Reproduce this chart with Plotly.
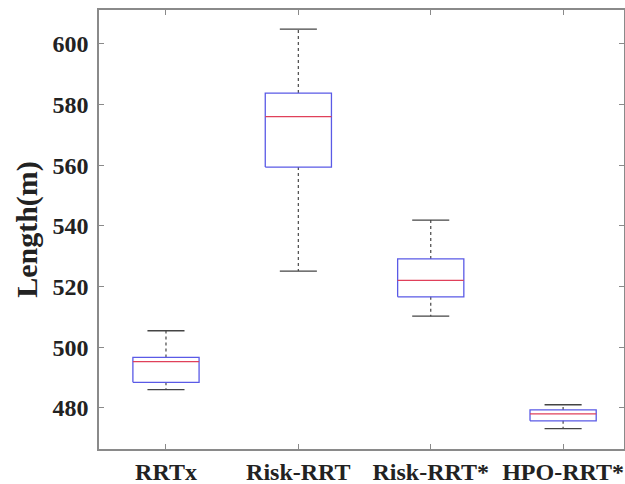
import plotly.graph_objects as go

categories = ["RRTx", "Risk-RRT", "Risk-RRT*", "HPO-RRT*"]
lower_whisker = [486.0, 525.1, 510.2, 473.1]
q1_values = [488.4, 559.4, 516.6, 475.7]
median_values = [495.2, 576.0, 522.0, 478.0]
q3_values = [496.6, 583.8, 529.1, 479.3]
upper_whisker = [505.4, 604.9, 541.9, 481.0]
y_ticks = [480, 500, 520, 540, 560, 580, 600]

BOX_HALF = 0.25
CAP_HALF = 0.14
FONT = "Times New Roman"

fig = go.Figure()
for i, cat in enumerate(categories):
    lo, q1, med, q3, hi = lower_whisker[i], q1_values[i], median_values[i], q3_values[i], upper_whisker[i]
    fig.add_trace(go.Scatter(x=[i, i, None, i, i], y=[q3, hi, None, q1, lo], mode="lines",
                             line=dict(color="#555555", width=1.3, dash="dot"), hoverinfo="skip"))
    fig.add_trace(go.Scatter(x=[i - CAP_HALF, i + CAP_HALF, None, i - CAP_HALF, i + CAP_HALF],
                             y=[hi, hi, None, lo, lo], mode="lines",
                             line=dict(color="#444444", width=1.3), hoverinfo="skip"))
    fig.add_trace(go.Scatter(x=[i - BOX_HALF, i + BOX_HALF, i + BOX_HALF, i - BOX_HALF, i - BOX_HALF],
                             y=[q1, q1, q3, q3, q1], mode="lines",
                             line=dict(color="#5a5ae6", width=1.3), hoverinfo="skip"))
    fig.add_trace(go.Scatter(x=[i - BOX_HALF, i + BOX_HALF], y=[med, med], mode="lines",
                             line=dict(color="#e0405a", width=1.3), hoverinfo="skip"))

fig.update_layout(
    width=625, height=484,
    margin=dict(l=99, r=1, t=10, b=35),
    showlegend=False,
    plot_bgcolor="white", paper_bgcolor="white",
    font=dict(family=FONT, color="#222222"),
)
fig.update_xaxes(
    range=[-0.506, 3.46], automargin=False,
    tickvals=list(range(len(categories))), ticktext=[f"<b>{c}</b>" for c in categories],
    tickfont=dict(size=24, family=FONT, color="#222222"),
    showgrid=False, zeroline=False,
    showline=True, linecolor="#8a8a8a", linewidth=1.5, mirror="allticks",
    ticks="inside", ticklen=5, tickcolor="#8a8a8a",
)
fig.update_yaxes(
    range=[466.4, 611.2], automargin=False,
    tickvals=y_ticks, ticktext=[f"<b>{v}</b>" for v in y_ticks],
    tickfont=dict(size=24, family=FONT, color="#222222"),
    ticklabelstandoff=4,
    showgrid=False, zeroline=False,
    showline=True, linecolor="#8a8a8a", linewidth=1.5, mirror="allticks",
    ticks="inside", ticklen=5, tickcolor="#8a8a8a",
    title=dict(text="<b>Length(m)</b>", font=dict(size=30, family=FONT, color="#222222"), standoff=6),
)
fig.write_html("out.html")
